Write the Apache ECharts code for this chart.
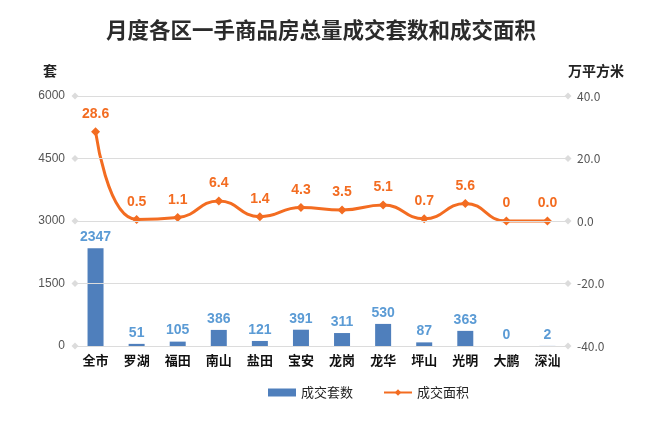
<!DOCTYPE html>
<html>
<head>
<meta charset="utf-8">
<script src="https://cdn.jsdelivr.net/npm/echarts@6/dist/echarts.min.js"></script>
<style>
  html, body { margin: 0; padding: 0; background: #fff; }
  #main { width: 646px; height: 434px; }
</style>
</head>
<body>
<div id="main"></div>
<script>
// 各区
const districts = ['全市', '罗湖', '福田', '南山', '盐田', '宝安', '龙岗', '龙华', '坪山', '光明', '大鹏', '深汕'];
// 成交套数
const unitCounts = [2347, 51, 105, 386, 121, 391, 311, 530, 87, 363, 0, 2];
// 成交面积（万平方米）
const areaValues = [28.6, 0.5, 1.1, 6.4, 1.4, 4.3, 3.5, 5.1, 0.7, 5.6, 0, 0.0];
const areaLabels = ['28.6', '0.5', '1.1', '6.4', '1.4', '4.3', '3.5', '5.1', '0.7', '5.6', '0', '0.0'];
// 左轴刻度
const leftTicks = [0, 1500, 3000, 4500, 6000];

let dom = document.getElementById('main');
let myChart = echarts.init(dom, null, {renderer: 'canvas'});

const cjk = '"Noto Sans CJK SC", "Microsoft YaHei", sans-serif';

const option = {
    animation: false,
    title: {
        text: '月度各区一手商品房总量成交套数和成交面积',
        left: 101,
        top: 14,
        textStyle: {fontFamily: cjk, fontSize: 21.5, fontWeight: 'bold', color: '#2b2b2b'}
    },
    legend: {
        bottom: 30,
        left: 263,
        itemGap: 30,
        itemWidth: 28,
        itemHeight: 8,
        textStyle: {fontFamily: cjk, fontSize: 13, color: '#222'},
        data: [
            {name: '成交套数', icon: 'rect'},
            {name: '成交面积'}
        ]
    },
    grid: {left: 75, right: 78, top: 96, bottom: 88},
    xAxis: {
        type: 'category',
        data: districts,
        axisLine: {show: false},
        axisTick: {show: false},
        axisLabel: {fontFamily: cjk, fontSize: 13, fontWeight: 'bold', color: '#111', margin: 8}
    },
    yAxis: [
        {
            type: 'value',
            name: '套',
            nameLocation: 'end',
            nameGap: 18,
            nameTextStyle: {fontFamily: cjk, fontSize: 14, fontWeight: 'bold', color: '#222', align: 'right', padding: [0, 18, 0, 0]},
            min: 0, max: 6000, interval: 1500,
            axisLine: {show: false},
            axisTick: {show: false},
            splitLine: {show: false},
            axisLabel: {
                color: '#555', fontSize: 12, fontFamily: 'Arial, "Liberation Sans", sans-serif', margin: 10,
                formatter: function (v) { return String(v); }
            }
        },
        {
            type: 'value',
            name: '万平方米',
            nameLocation: 'end',
            nameGap: 18,
            nameTextStyle: {fontFamily: cjk, fontSize: 14, fontWeight: 'bold', color: '#222', align: 'left', padding: [0, 0, 0, 0]},
            min: -40, max: 40, interval: 20,
            axisLine: {show: false},
            axisTick: {show: false},
            splitLine: {show: false},
            axisLabel: {
                color: '#555', fontSize: 12, fontFamily: '"Noto Sans CJK SC", sans-serif', margin: 9,
                formatter: function (v) { return v.toFixed(1); }
            }
        }
    ],
    series: [
        {
            name: '成交套数',
            type: 'bar',
            yAxisIndex: 0,
            barWidth: 16,
            itemStyle: {color: '#4F7FBC'},
            label: {
                show: true,
                position: 'top',
                distance: 4,
                color: '#5B9BD5',
                fontSize: 14,
                fontWeight: 'bold',
                fontFamily: 'Arial, "Liberation Sans", sans-serif'
            },
            data: unitCounts,
            markLine: {
                silent: true,
                symbol: ['diamond', 'diamond'],
                symbolSize: 7,
                label: {show: false},
                lineStyle: {color: '#dcdcdc', type: 'solid', width: 1},
                itemStyle: {color: '#d0d0d0'},
                data: leftTicks.map(function (t) { return {yAxis: t}; })
            },
            z: 2
        },
        {
            name: '成交面积',
            type: 'line',
            yAxisIndex: 1,
            smooth: true,
            symbol: 'diamond',
            symbolSize: 9,
            lineStyle: {color: '#F36C21', width: 3},
            itemStyle: {color: '#F36C21'},
            label: {
                show: true,
                position: 'top',
                distance: 6,
                color: '#F36C21',
                fontSize: 14,
                fontWeight: 'bold',
                fontFamily: 'Arial, "Liberation Sans", sans-serif',
                formatter: function (p) { return areaLabels[p.dataIndex]; }
            },
            data: areaValues,
            z: 3
        }
    ]
};
myChart.setOption(option, true);
</script>
</body>
</html>
